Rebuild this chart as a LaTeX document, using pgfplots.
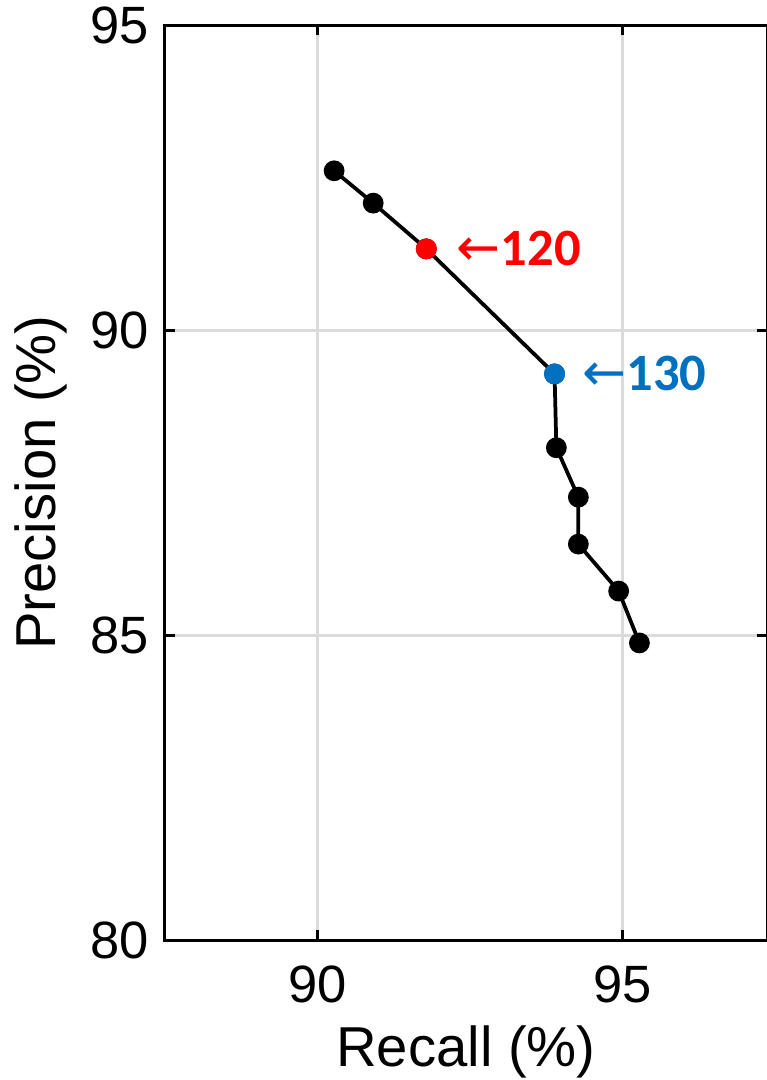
\documentclass[border=0pt]{standalone}
\usepackage{pgfplots}
\pgfplotsset{compat=1.18}
\usepackage{fontspec}
\setmainfont{Liberation Sans}
\newfontfamily\notefont{Carlito}
\newfontfamily\arrowfont{DejaVu Sans}
\definecolor{markred}{RGB}{255,0,0}
\definecolor{markblue}{RGB}{0,112,192}
\begin{document}
\begin{tikzpicture}
\begin{axis}[
    scale only axis, width=240.8pt, height=366pt,
    xmin=87.5, xmax=97.36, ymin=80, ymax=95,
    xtick={90,95}, ytick={80,85,90,95},
    grid=major, grid style={gray!28, line width=1.2pt},
    axis line style={line width=1.2pt},
    tick style={black, line width=1.2pt}, major tick length=4pt,
    tick align=inside,
    /pgf/number format/assume math mode=true,
    ticklabel style={font=\fontsize{21}{25}\selectfont},
    xticklabel style={yshift=-7pt},
    yticklabel style={xshift=-3pt},
    xlabel={Recall (\%)}, ylabel={Precision (\%)},
    label style={font=\fontsize{22.5}{26}\selectfont, inner sep=0pt},
    xlabel style={at={(axis description cs:0.5,0)}, anchor=north, yshift=-34pt},
    ylabel style={at={(axis description cs:-0.206,0.5)}, anchor=center},
    clip=false,
]
\addplot[black, line width=1.5pt, mark=*, mark size=3.4pt] coordinates {
    (90.27,92.61) (90.91,92.08) (91.78,91.33) (93.88,89.28) (93.91,88.07)
    (94.27,87.26) (94.27,86.49) (94.93,85.72) (95.27,84.87)
};
\addplot[only marks, mark=*, mark size=4pt, markred] coordinates {(91.78,91.33)};
\addplot[only marks, mark=*, mark size=4pt, markblue] coordinates {(93.88,89.28)};
\node[anchor=west, inner sep=0pt, xshift=12pt, text=markred]
    at (axis cs:91.78,91.33) {\fontsize{21}{24}\selectfont\arrowfont ←\notefont\bfseries 120};
\node[anchor=west, inner sep=0pt, xshift=11pt, text=markblue]
    at (axis cs:93.88,89.28) {\fontsize{21}{24}\selectfont\arrowfont ←\notefont\bfseries 130};
\end{axis}
\pgfresetboundingbox
\path[use as bounding box] (current axis.south west) ++(-66pt,-56pt) rectangle ++(306.8pt,432pt);
\end{tikzpicture}
\end{document}
